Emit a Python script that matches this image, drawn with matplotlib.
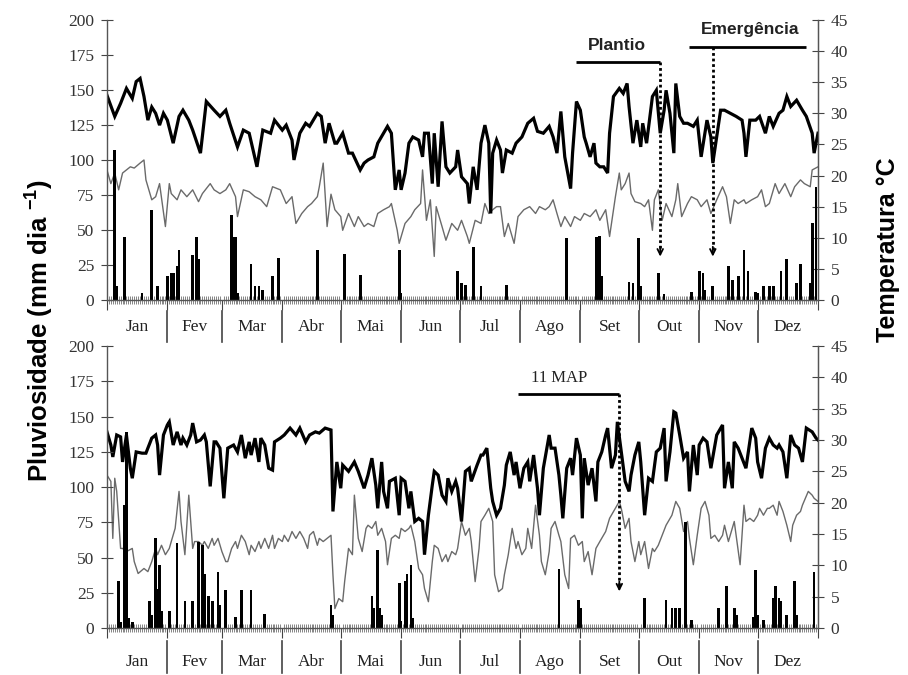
import numpy as np
import matplotlib
matplotlib.use("Agg")
import matplotlib.pyplot as plt
from matplotlib.transforms import blended_transform_factory

plt.rcParams["mathtext.default"] = "regular"

# ---------------- data ----------------
months = ["Jan", "Fev", "Mar", "Abr", "Mai", "Jun", "Jul", "Ago", "Set", "Out", "Nov", "Dez"]
month_days = [31, 28, 31, 30, 31, 30, 31, 31, 30, 31, 30, 31]

# top panel: (day of year, temperature °C)
top_tmax = [(0,32.9),(4,29.5),(7,31.6),(10,34.0),(13,32.4),(15,35.1),(17,35.6),(19,32.7),(21,28.9),(23,31.0),
            (25,30.0),(27,28.1),(29,30.0),(31,28.9),(34,25.2),(37,29.5),(39,30.5),(42,28.9),(44,27.3),(48,23.6),
            (51,31.9),(55,30.5),(58,29.5),(61,30.5),(63,28.4),(67,24.6),(70,27.3),(73,26.8),(77,21.4),(80,27.3),
            (84,26.8),(86,28.9),(90,27.3),(92,28.1),(95,25.7),(96,22.5),(99,26.8),(102,28.4),(104,27.9),(108,30.0),
            (110,29.5),(112,25.2),(114,28.4),(117,25.2),(118,25.2),(121,26.8),(124,23.6),(126,23.6),(130,20.9),
            (132,22.0),(134,22.5),(137,23.0),(139,25.2),(142,26.8),(144,27.9),(146,26.8),(148,17.7),(150,20.9),
            (151,17.7),(153,20.4),(155,25.2),(157,26.2),(160,25.7),(162,23.0),(163,26.8),(165,26.8),(167,18.7),
            (168,26.8),(170,18.2),(172,28.7),(174,21.4),(176,20.4),(179,21.4),(180,24.1),(182,19.8),(185,18.7),
            (186,15.5),(188,21.4),(190,17.7),(192,25.2),(194,28.1),(196,25.2),(197,13.9),(198,23.6),(200,25.7),
            (202,24.1),(203,20.4),(205,24.1),(208,23.6),(210,25.2),(213,26.2),(216,28.4),(219,29.2),(221,27.1),
            (224,26.8),(227,27.9),(229,26.2),(231,23.6),(233,30.3),(235,23.0),(238,17.9),(239,23.6),(241,31.9),
            (243,30.5),(245,26.2),(246,25.2),(248,23.0),(250,25.2),(251,22.0),(253,21.4),(255,21.4),(257,20.4),
            (258,26.8),(260,32.7),(263,34.0),(265,33.2),(267,34.8),(268,31.1),(270,25.2),(272,28.9),(274,24.6),
            (275,28.4),(277,25.2),(280,32.7),(282,33.7),(284,26.8),(286,30.5),(287,33.7),(289,30.0),(291,23.6),
            (292,34.8),(294,29.5),(296,28.4),(298,28.4),(301,27.9),(303,28.9),(305,23.0),(308,28.9),(310,26.2),
            (311,22.0),(313,26.2),(315,30.5),(317,30.5),(320,30.0),(323,29.5),(326,28.9),(327,26.8),(328,23.0),
            (330,28.9),(333,28.9),(335,29.5),(338,26.8),(340,29.5),(342,27.9),(345,30.0),(347,30.5),(349,32.7),
            (351,31.1),(354,32.1),(357,30.5),(359,29.5),(362,26.8),(363,23.6),(365,26.8)]

top_tmin = [(0,20.9),(2,18.7),(4,20.4),(6,17.7),(8,20.4),(12,21.4),(14,21.2),(17,22.0),(19,22.5),(20,19.3),
            (23,16.1),(25,16.6),(27,18.7),(30,11.8),(32,18.7),(33,17.1),(36,16.1),(38,17.7),(41,16.6),(44,17.7),
            (47,15.8),(49,17.1),(53,18.7),(55,17.7),(58,17.1),(61,17.7),(63,18.7),(66,16.6),(67,13.4),(70,17.7),
            (73,17.4),(76,16.6),(79,16.1),(82,15.0),(85,18.2),(89,17.7),(92,15.5),(95,16.6),(97,12.3),(100,13.9),
            (103,15.0),(105,15.5),(108,16.6),(109,18.2),(111,22.0),(113,11.8),(115,17.0),(117,14.5),(120,13.4),
            (121,11.2),(124,13.9),(127,11.8),(129,13.4),(132,11.8),(134,12.3),(137,11.8),(139,13.9),(142,14.5),
            (145,15.0),(146,15.5),(149,11.2),(150,9.1),(153,12.3),(156,13.4),(158,14.5),(161,15.5),(162,20.9),
            (164,12.8),(166,16.1),(168,7.0),(169,15.0),(172,11.8),(174,9.6),(177,12.3),(180,11.2),(182,12.8),
            (185,10.2),(186,9.1),(189,12.8),(192,12.3),(194,15.5),(196,13.9),(198,14.5),(200,15.0),(202,15.0),
            (204,10.2),(206,12.3),(209,9.1),(211,13.4),(214,14.5),(217,15.0),(220,13.9),(222,15.0),(225,14.5),
            (227,15.0),(229,16.1),(231,13.9),(233,11.8),(235,13.4),(238,11.8),(240,13.4),(243,12.8),(245,13.9),
            (248,13.4),(251,14.5),(253,12.8),(256,14.5),(258,10.2),(261,16.6),(263,20.4),(264,17.7),(266,18.7),
            (268,20.4),(269,17.1),(271,15.8),(274,15.5),(276,15.0),(278,16.1),(280,11.2),(281,16.1),(283,17.7),
            (285,12.8),(287,15.5),(290,13.4),(292,16.1),(293,18.7),(295,13.4),(298,15.5),(300,16.6),(303,16.1),
            (305,15.0),(308,16.1),(310,13.9),(313,16.1),(316,18.2),(318,16.6),(320,12.3),(322,16.1),(324,15.5),
            (327,16.1),(328,15.5),(331,16.1),(334,16.6),(336,17.7),(338,15.0),(340,15.5),(343,18.7),(345,17.1),
            (348,18.7),(351,16.6),(353,18.2),(356,19.3),(358,18.7),(361,18.2),(362,20.9),(365,21.4)]

# top panel rainfall: (day, mm)
top_rain = [(4,107),(5,10),(9,45),(18,5),(23,64),(26,10),(31,17),(33,19),(34,19),(36,24),(37,36),(44,32),
            (46,45),(47,29),(64,61),(65,45),(66,45),(67,5),(74,26),(76,10),(78,10),(80,7),(85,17),(88,30),
            (108,36),(122,33),(130,18),(150,36),(151,5),(180,21),(182,12),(184,11),(188,38),(192,10),(205,11),
            (236,44),(251,45),(252,45),(253,46),(254,17),(268,13),(270,12),(273,44),(274,10),(283,19),(286,4),
            (300,6),(304,21),(306,19),(307,7),(311,10),(319,24),(321,14),(324,17),(327,36),(329,21),(333,6),
            (334,5),(337,10),(340,10),(342,10),(346,21),(349,29),(354,12),(356,26),(361,12),(362,55),(364,81)]

# bottom panel
bot_tmax = [(0,31.3),(2,29.2),(3,27.3),(5,30.8),(7,30.5),(8,26.5),(10,30.8),(12,25.5),(13,23.9),(15,28.1),
            (18,27.9),(20,27.9),(23,30.3),(25,30.8),(26,29.2),(27,24.4),(29,30.8),(31,32.4),(32,32.9),(34,29.2),
            (36,31.3),(38,29.2),(39,30.3),(41,29.2),(43,30.8),(44,32.7),(46,29.7),(48,30.0),(50,30.8),(51,29.7),
            (53,22.6),(55,29.7),(56,29.7),(58,28.7),(60,20.7),(62,28.7),(65,29.2),(67,28.1),(69,30.8),(71,27.1),
            (73,29.7),(74,27.6),(76,30.3),(78,26.5),(79,30.3),(81,29.2),(83,25.5),(85,25.2),(86,29.7),(89,30.3),
            (91,30.8),(94,31.9),(97,30.8),(99,31.9),(102,29.7),(104,30.8),(107,31.3),(109,31.1),(112,31.9),
            (115,31.6),(116,18.6),(118,26.5),(120,22.3),(121,26.0),(124,25.0),(127,26.5),(129,25.0),(132,22.3),
            (134,24.4),(136,27.1),(138,22.8),(139,19.1),(141,26.5),(142,21.8),(144,19.1),(145,23.4),(148,23.9),
            (150,18.0),(151,23.9),(153,23.4),(155,19.1),(156,21.8),(158,17.0),(160,17.5),(162,17.0),(163,11.7),
            (165,18.0),(167,22.8),(168,25.0),(170,24.4),(172,21.2),(174,20.2),(175,23.9),(177,21.8),(179,23.4),
            (180,22.3),(182,17.0),(184,25.0),(186,25.5),(187,23.4),(190,26.0),(192,27.6),(193,27.6),(195,28.7),
            (197,22.3),(198,20.2),(200,18.0),(202,19.1),(204,22.8),(205,26.0),(207,28.1),(209,24.4),(210,26.5),
            (212,22.3),(214,25.5),(216,26.5),(217,23.4),(219,27.6),(221,22.3),(222,18.0),(224,25.5),(227,30.8),
            (228,28.7),(230,28.7),(232,24.4),(233,21.2),(234,17.5),(236,25.5),(238,27.1),(239,24.4),(241,30.3),
            (243,27.6),(244,17.5),(245,27.1),(247,22.8),(249,25.5),(251,20.2),(252,26.5),(254,28.1),(256,30.8),
            (257,31.9),(259,25.5),(261,27.6),(262,32.9),(264,28.1),(266,23.4),(268,21.8),(269,24.4),(271,27.6),
            (273,29.7),(274,26.5),(276,18.0),(278,23.9),(280,23.4),(282,28.1),(284,28.7),(286,31.9),(287,23.4),
            (289,28.1),(291,34.5),(292,34.3),(294,30.8),(296,27.1),(298,28.1),(299,21.8),(301,29.2),(303,24.4),
            (304,29.2),(306,30.3),(308,29.7),(310,25.5),(313,30.8),(316,32.4),(317,22.3),(319,26.5),(321,22.3),
            (322,29.7),(324,28.7),(326,27.1),(328,25.5),(331,31.9),(333,30.3),(334,26.5),(336,23.9),(338,28.7),
            (340,30.3),(342,29.2),(344,28.7),(345,29.2),(347,28.1),(349,23.9),(351,30.8),(353,29.2),(355,28.7),
            (357,26.5),(359,31.9),(362,31.3),(364,30.3),(365,30.0)]

bot_tmin = [(0,24.4),(2,23.4),(3,14.3),(4,23.9),(5,21.8),(7,12.7),(8,12.7),(10,12.2),(13,12.7),(14,10.6),
            (16,8.7),(19,9.5),(21,9.0),(23,10.6),(25,12.7),(26,11.7),(28,13.2),(30,11.7),(32,12.7),(33,13.8),
            (35,15.9),(37,21.8),(38,17.0),(40,11.7),(42,21.2),(44,12.7),(45,13.8),(47,13.8),(49,13.2),(50,13.8),
            (52,12.7),(54,14.3),(55,13.2),(57,14.3),(59,12.2),(61,10.6),(62,10.6),(64,12.7),(66,13.8),(67,12.7),
            (69,14.8),(71,13.8),(73,11.7),(74,13.2),(76,12.2),(78,13.8),(79,12.7),(81,14.3),(83,12.7),(85,14.8),
            (86,12.7),(88,14.3),(90,13.8),(91,14.8),(93,13.8),(95,15.4),(97,14.3),(99,15.4),(101,14.3),(103,12.7),
            (104,14.8),(106,15.4),(108,13.2),(109,14.3),(111,13.8),(113,14.3),(115,14.8),(116,8.5),(117,3.1),
            (119,4.7),(121,4.2),(122,7.4),(124,12.7),(126,11.7),(127,21.2),(129,14.3),(131,12.2),(133,15.9),
            (134,16.4),(136,15.9),(138,17.0),(139,14.8),(141,15.9),(143,13.8),(144,10.1),(146,14.3),(148,14.8),
            (150,14.3),(151,15.9),(153,15.4),(155,15.9),(156,16.4),(158,13.8),(160,9.5),(162,8.5),(163,6.3),
            (165,4.2),(167,10.6),(168,13.2),(170,12.7),(172,10.6),(174,11.7),(175,10.6),(177,12.2),(179,11.7),
            (180,12.7),(182,17.0),(184,14.8),(186,15.9),(187,13.8),(189,7.4),(191,12.7),(192,17.0),(194,18.0),
            (196,19.1),(198,17.0),(199,8.5),(201,5.8),(203,6.3),(204,8.5),(206,11.7),(208,15.9),(210,12.7),
            (211,13.8),(213,11.7),(215,12.7),(216,15.9),(218,12.7),(220,19.6),(222,14.8),(223,10.6),(225,8.5),
            (227,12.2),(228,15.9),(230,17.0),(232,14.8),(233,13.8),(235,8.5),(237,6.3),(238,14.3),(240,14.8),
            (242,13.2),(244,13.8),(245,10.6),(247,12.2),(249,8.5),(251,12.7),(253,13.8),(256,15.4),(258,17.5),
            (261,19.1),(263,20.2),(264,19.1),(266,15.9),(268,17.5),(269,13.8),(271,10.6),(273,13.8),(274,11.7),
            (276,13.8),(278,9.5),(280,12.7),(281,12.2),(283,13.2),(285,14.8),(287,16.4),(290,18.0),(292,20.2),
            (294,19.1),(296,15.4),(298,17.0),(299,14.3),(301,10.1),(303,14.8),(305,19.1),(307,20.2),(309,18.0),
            (310,14.3),(312,14.8),(314,13.8),(316,14.8),(317,16.4),(319,13.8),(321,15.9),(322,17.0),(325,10.1),
            (327,19.6),(328,17.0),(330,17.5),(332,17.0),(334,18.0),(335,19.1),(337,18.0),(339,19.1),(340,19.1),
            (342,19.6),(344,18.0),(345,20.2),(347,18.6),(349,16.4),(351,13.8),(352,16.4),(354,18.0),(356,18.6),
            (357,19.6),(360,21.8),(362,21.2),(363,20.7),(365,20.2)]

bot_rain = [(0,9),(6,33),(7,4),(9,87),(10,139),(11,7),(13,4),(22,19),(23,9),(25,64),(26,28),(27,45),(28,12),
            (32,12),(36,60),(40,19),(44,19),(47,61),(49,59),(50,38),(52,23),(54,19),(57,40),(58,16),(61,27),
            (66,8),(69,27),(74,27),(81,10),(115,16),(116,9),(136,23),(137,14),(139,55),(140,14),(141,9),(150,32),
            (151,5),(153,33),(154,38),(156,45),(157,7),(232,42),(242,20),(243,14),(276,21),(287,20),(290,14),
            (292,14),(294,14),(297,75),(300,6),(314,14),(318,30),(322,14),(323,9),(332,8),(333,41),(334,9),
            (337,6),(342,21),(343,30),(345,21),(346,19),(349,9),(353,33),(354,9),(363,40)]

# annotations (day, mm on the left axis)
top_notes = [("Plantio", 262, 182, (241, 284), 170, 284, 31),
             ("Emergência", 330, 193, (299, 359), 181, 311, 31)]
bot_notes = [("11 MAP", 232, 177, (211, 263), 166, 263, 26)]

# ---------------- figure ----------------
fig = plt.figure(figsize=(9.08, 6.75), dpi=100)
ax_top = fig.add_axes([0.1178, 0.5556, 0.7831, 0.4148])
ax_bot = fig.add_axes([0.1178, 0.0696, 0.7831, 0.4178])

SERIF = "Liberation Serif"
SANS = "Liberation Sans"
month_starts = np.concatenate([[0], np.cumsum(month_days)])
month_mid = (month_starts[:-1] + month_starts[1:]) / 2.0


def draw_panel(ax, tmax, tmin, rain, notes, note_font, lab_y, sep_y):
    rd, rv = zip(*rain)
    ax.bar(rd, rv, width=1.4, color="black", align="center", zorder=2)
    ax.set_xlim(0, 365)
    ax.set_ylim(0, 200)
    ax.set_yticks(np.arange(0, 201, 25))
    ax.tick_params(axis="y", direction="inout", length=8, width=0.8, colors="#444444",
                   labelcolor="#333333", labelsize=12.5, pad=5)
    for lb in ax.get_yticklabels():
        lb.set_family(SERIF)
    ax.set_xticks(month_starts)
    ax.set_xticklabels([])
    ax.set_xticks(np.arange(0, 366, 1), minor=True)
    ax.tick_params(axis="x", which="major", direction="out", length=7, width=0.8, colors="#444444")
    ax.tick_params(axis="x", which="minor", direction="inout", length=6, width=0.5, colors="#555555")
    ax.spines["top"].set_visible(False)
    for s in ("left", "right", "bottom"):
        ax.spines[s].set_color("#555555")
        ax.spines[s].set_linewidth(1.0)

    tw = ax.twinx()
    tw.set_ylim(0, 45)
    tw.set_yticks(np.arange(0, 46, 5))
    tw.tick_params(axis="y", direction="inout", length=8, width=0.8, colors="#444444",
                   labelcolor="#333333", labelsize=12.5, pad=5)
    for lb in tw.get_yticklabels():
        lb.set_family(SERIF)
    tw.spines["top"].set_visible(False)
    tw.spines["right"].set_color("#555555")
    tw.spines["left"].set_visible(False)
    tw.spines["bottom"].set_visible(False)
    d1, v1 = zip(*tmin)
    tw.plot(d1, v1, color="#6a6a6a", lw=1.0, zorder=3)
    d2, v2 = zip(*tmax)
    tw.plot(d2, v2, color="black", lw=2.3, zorder=4, solid_joinstyle="miter")

    trans = blended_transform_factory(ax.transData, ax.transAxes)
    for m, xm in zip(months, month_mid):
        ax.text(xm, lab_y, m, transform=trans, ha="center", va="center",
                family=SERIF, fontsize=12.5, color="#222222")
    for xs in month_starts[1:-1]:
        ax.plot([xs, xs], [sep_y[0], sep_y[1]], transform=trans, color="#444444",
                lw=1.2, clip_on=False)

    for text, tx, ty, (x0, x1), ly, ax_x, ay_end in notes:
        ax.text(tx, ty, text, ha="center", va="center", zorder=6, **note_font)
        ax.plot([x0, x1], [ly, ly], color="black", lw=2.0, zorder=6, solid_capstyle="butt")
        ax.plot([ax_x, ax_x], [ly, ay_end + 3], color="black", lw=2.0, ls=(0, (1, 1)), zorder=6)
        ax.annotate("", xy=(ax_x, ay_end), xytext=(ax_x, ay_end + 7),
                    arrowprops=dict(arrowstyle="->", lw=1.3, color="black",
                                    shrinkA=0, shrinkB=0), zorder=6)
    ax.set_zorder(tw.get_zorder() + 1)
    ax.patch.set_visible(False)
    return tw


draw_panel(ax_top, top_tmax, top_tmin, top_rain, top_notes,
           dict(family=SANS, fontweight="bold", fontsize=12.5, color="#222222"),
           -0.095, (-0.04, -0.15))
draw_panel(ax_bot, bot_tmax, bot_tmin, bot_rain, bot_notes,
           dict(family=SERIF, fontsize=12, color="#222222"),
           -0.12, (-0.045, -0.16))

fig.text(0.044, 0.51, "Pluviosidade (mm dia $^{-1}$)", rotation=90, ha="center", va="center",
         family=SANS, fontweight="bold", fontsize=18.5)
fig.text(0.978, 0.63, "Temperatura °C", rotation=90, ha="center", va="center",
         family=SANS, fontweight="bold", fontsize=18)

fig.savefig("out.png", dpi=100, facecolor="white")
